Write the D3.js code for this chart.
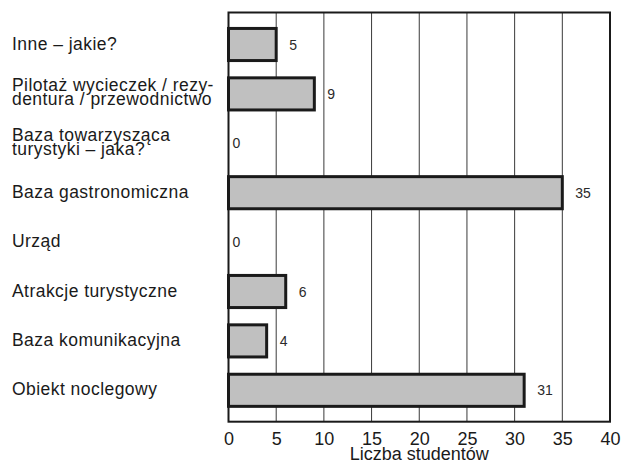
<!DOCTYPE html>
<html>
<head>
<meta charset="utf-8">
<script src="https://cdn.jsdelivr.net/npm/d3@7"></script>
<style>
  html, body { margin: 0; padding: 0; background: #fff; }
  svg { display: block; }
</style>
</head>
<body>
<svg id="chart" width="621" height="463"></svg>
<script>
const categories = [
  "Inne – jakie?",
  "Pilotaż wycieczek / rezy-\ndentura / przewodnictwo",
  "Baza towarzysząca\nturystyki – jaka?",
  "Baza gastronomiczna",
  "Urząd",
  "Atrakcje turystyczne",
  "Baza komunikacyjna",
  "Obiekt noclegowy"
];
const values = [5, 9, 0, 35, 0, 6, 4, 31];
const xTicks = [0, 5, 10, 15, 20, 25, 30, 35, 40];
const xTitle = "Liczba studentów";

const svg = d3.select("#chart");
const pL = 228.5, pR = 610, pT = 12.5, pB = 421.7;

const x = d3.scaleLinear().domain([0, 40]).range([pL, pR]);
const y = d3.scaleBand().domain(categories).range([19.8, 415])
  .paddingInner(0.35).paddingOuter(0.175);

// grid lines
svg.append("g").selectAll("line").data(xTicks.filter(t => t > 0 && t < 40)).join("line")
  .attr("x1", d => x(d)).attr("x2", d => x(d))
  .attr("y1", pT).attr("y2", pB)
  .attr("stroke", "#3a3a3a").attr("stroke-width", 1);

// bars
svg.append("g").selectAll("rect").data(values.map((v, i) => ({v, c: categories[i]})).filter(d => d.v > 0)).join("rect")
  .attr("x", x(0)).attr("y", d => y(d.c))
  .attr("width", d => x(d.v) - x(0)).attr("height", y.bandwidth())
  .attr("fill", "#c0c0c0").attr("stroke", "#1a1a1a").attr("stroke-width", 3);

// frame
svg.append("rect").attr("x", pL).attr("y", pT)
  .attr("width", pR - pL).attr("height", pB - pT)
  .attr("fill", "none").attr("stroke", "#1a1a1a").attr("stroke-width", 2);

// value labels
svg.append("g").selectAll("text").data(values).join("text")
  .attr("x", d => x(d) + (d > 0 ? 13 : 4))
  .attr("y", (d, i) => y(categories[i]) + y.bandwidth() / 2 + 5)
  .attr("font-family", "'Liberation Sans Narrow', 'Arial Narrow', 'Liberation Sans', Arial, sans-serif")
  .attr("font-size", 14).attr("fill", "#2a2a2a")
  .text(d => d);

// category labels
svg.append("g").selectAll("text").data(categories).join("text")
  .attr("font-family", "'Liberation Sans', Arial, sans-serif")
  .attr("font-size", 17.5).attr("letter-spacing", 0.45).attr("fill", "#1a1a1a")
  .each(function(d) {
    const lines = d.split("\n");
    const c = y(d) + y.bandwidth() / 2;
    const t = d3.select(this);
    if (lines.length === 1) {
      t.append("tspan").attr("x", 12).attr("y", c + 5).text(lines[0]);
    } else {
      lines.forEach((ln, j) => {
        t.append("tspan").attr("x", 12).attr("y", c - 2.5 + j * 14).text(ln);
      });
    }
  });

// x axis
const axis = svg.append("g").attr("transform", `translate(0,${pB})`)
  .call(d3.axisBottom(x).tickValues(xTicks).tickSize(0).tickPadding(10.5));
axis.select(".domain").remove();
axis.selectAll("text")
  .attr("font-family", "'Liberation Sans', Arial, sans-serif")
  .attr("font-size", 18).attr("fill", "#1a1a1a");

svg.append("text").attr("x", (pL + pR) / 2).attr("y", 459.5)
  .attr("text-anchor", "middle")
  .attr("font-family", "'Liberation Sans', Arial, sans-serif")
  .attr("font-size", 18).attr("fill", "#1a1a1a")
  .text(xTitle);
</script>
</body>
</html>
